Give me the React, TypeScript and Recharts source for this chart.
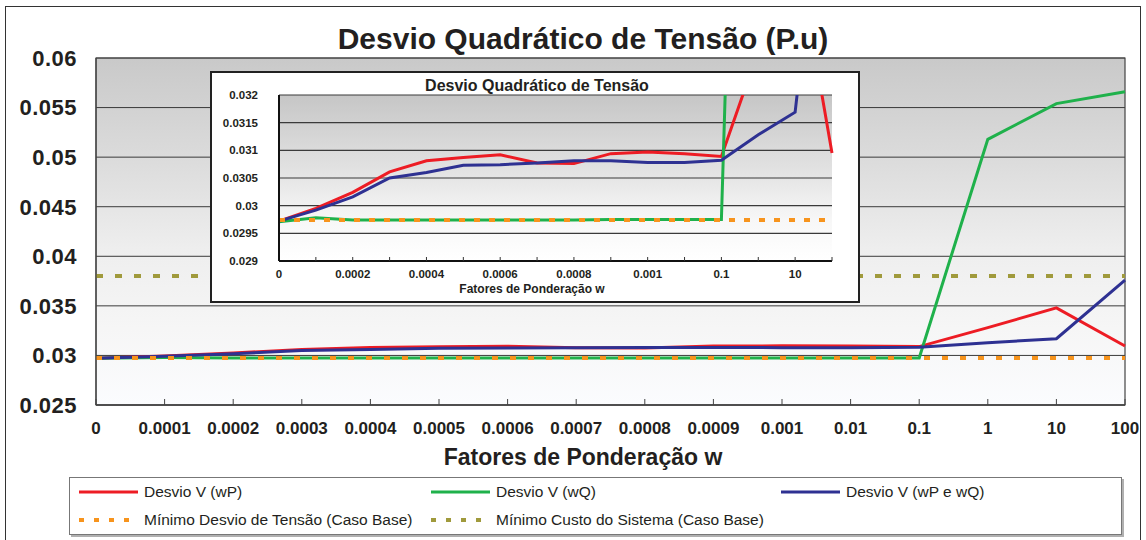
import { LineChart, Line, XAxis, YAxis, CartesianGrid, ReferenceLine, ReferenceArea } from "recharts";

const categories = ["0", "0.0001", "0.0002", "0.0003", "0.0004", "0.0005", "0.0006", "0.0007", "0.0008", "0.0009", "0.001", "0.01", "0.1", "1", "10", "100"];
const desvioWP = [0.02972, 0.02995, 0.03024, 0.03061, 0.03081, 0.03087, 0.03092, 0.03077, 0.03076, 0.03094, 0.03097, 0.03094, 0.03089, 0.0328, 0.0348, 0.03095];
const desvioWQ = [0.02971, 0.02978, 0.02974, 0.02974, 0.02974, 0.02974, 0.02974, 0.02974, 0.02974, 0.02975, 0.02975, 0.02975, 0.02975, 0.0518, 0.0554, 0.0566];
const desvioWPQ = [0.02972, 0.02992, 0.03016, 0.0305, 0.0306, 0.03073, 0.03074, 0.03077, 0.03081, 0.03081, 0.03078, 0.03078, 0.03082, 0.03128, 0.03169, 0.0376];
const minDesvioTensao = 0.02974;
const minCustoSistema = 0.038;
const mainTicks = [0.025, 0.03, 0.035, 0.04, 0.045, 0.05, 0.055, 0.06];
const insetTicks = [0.029, 0.0295, 0.03, 0.0305, 0.031, 0.0315, 0.032];

const RED = "#ed1c24";
const GREEN = "#1fb14b";
const BLUE = "#2e3192";
const ORANGE = "#f7941d";
const OLIVE = "#a09a3c";
const FONT = "'Liberation Sans', Arial, Helvetica, sans-serif";
const INK = "#231f20";

const data = categories.map((w, i) => ({ w, wp: desvioWP[i], wq: desvioWQ[i], wpq: desvioWPQ[i] }));

const legendItems = [
  { label: "Desvio V (wP)", color: RED, dash: undefined, x: 9, y: 14 },
  { label: "Desvio V (wQ)", color: GREEN, dash: undefined, x: 361, y: 14 },
  { label: "Desvio V (wP e wQ)", color: BLUE, dash: undefined, x: 711, y: 14 },
  { label: "Mínimo Desvio de Tensão (Caso Base)", color: ORANGE, dash: "5 10", x: 9, y: 42 },
  { label: "Mínimo Custo do Sistema (Caso Base)", color: OLIVE, dash: "5 10", x: 361, y: 42 },
];

function Inset() {
  return (
    <div style={{ position: "absolute", left: 210, top: 71, width: 650, height: 232, border: "2px solid #222", background: "#fff", boxSizing: "border-box" }}>
      <div style={{ position: "absolute", left: 325, top: 5, transform: "translateX(-50%)", fontFamily: FONT, fontWeight: "bold", fontSize: 16, lineHeight: "16px", color: INK, whiteSpace: "nowrap" }}>
        Desvio Quadrático de Tensão
      </div>
      <div style={{ position: "absolute", left: 320, top: 210, transform: "translateX(-50%)", fontFamily: FONT, fontWeight: "bold", fontSize: 12, lineHeight: "12px", color: INK, whiteSpace: "nowrap" }}>
        Fatores de Ponderação w
      </div>
      <div style={{ position: "absolute", left: -2, top: -2 }}>
        <LineChart width={650} height={232} data={data} margin={{ top: 24, right: 28, left: 9, bottom: 12 }}>
          <defs>
            <linearGradient id="insetBg" x1="0" y1="0" x2="0" y2="1">
              <stop offset="0%" stopColor="#c6c6c6" />
              <stop offset="45%" stopColor="#e2e2e2" />
              <stop offset="75%" stopColor="#f7f7f7" />
              <stop offset="100%" stopColor="#ffffff" />
            </linearGradient>
          </defs>
          <CartesianGrid vertical={false} stroke="#3a3a3a" strokeWidth={1.2} fill="url(#insetBg)" fillOpacity={1} />
          <XAxis
            dataKey="w"
            interval={0}
            tickFormatter={(v: string, i: number) => (i % 2 === 0 ? v : "")}
            tick={{ fill: INK, fontSize: 11.5, fontWeight: "bold", fontFamily: FONT }}
            tickSize={-4}
            tickMargin={13}
            height={30}
            stroke="#111"
            axisLine={{ stroke: "#111", strokeWidth: 2 }}
            tickLine={{ stroke: "#333" }}
          />
          <YAxis
            domain={[0.029, 0.032]}
            ticks={insetTicks}
            allowDataOverflow
            tickFormatter={(v: number) => String(v)}
            tick={{ fill: INK, fontSize: 11.5, fontWeight: "bold", fontFamily: FONT }}
            tickSize={0}
            tickMargin={21}
            width={60}
            axisLine={{ stroke: "#111", strokeWidth: 2 }}
            tickLine={false}
          />
          <Line dataKey="wp" stroke={RED} strokeWidth={3} dot={false} isAnimationActive={false} />
          <Line dataKey="wq" stroke={GREEN} strokeWidth={3} dot={false} isAnimationActive={false} />
          <Line dataKey="wpq" stroke={BLUE} strokeWidth={3} dot={false} isAnimationActive={false} />
          <ReferenceLine y={minDesvioTensao} stroke={ORANGE} strokeWidth={4} strokeDasharray="6 9" />
        </LineChart>
      </div>
    </div>
  );
}

export default function App() {
  return (
    <div style={{ position: "absolute", left: 0, top: 0, width: 1146, height: 540, overflow: "hidden", background: "#fff" }}>
      <div style={{ position: "absolute", left: 5, top: 6, width: 1136, height: 560, border: "1.5px solid #333", boxSizing: "border-box" }} />
      <div style={{ position: "absolute", left: 583, top: 24, transform: "translateX(-50%)", fontFamily: FONT, fontWeight: "bold", fontSize: 30, lineHeight: "30px", color: INK, whiteSpace: "nowrap" }}>
        Desvio Quadrático de Tensão (P.u)
      </div>
      <div style={{ position: "absolute", left: 0, top: 0 }}>
        <LineChart width={1146} height={540} data={data} margin={{ top: 58, right: 21, left: 16, bottom: 105 }}>
          <defs>
            <linearGradient id="mainBg" x1="0" y1="0" x2="0" y2="1">
              <stop offset="0%" stopColor="#c9c9c9" />
              <stop offset="30%" stopColor="#dcdcdc" />
              <stop offset="55%" stopColor="#eeeeee" />
              <stop offset="78%" stopColor="#f6f6f6" />
              <stop offset="100%" stopColor="#fbfcfe" />
            </linearGradient>
          </defs>
          <CartesianGrid vertical={false} stroke="#3a3a3a" strokeWidth={1} fill="url(#mainBg)" fillOpacity={1} />
          <ReferenceArea x1="0" x2="100" y1={0.025} y2={0.06} fill="none" stroke="#444" strokeWidth={1.2} ifOverflow="visible" />
          <XAxis
            dataKey="w"
            interval={0}
            tick={{ fill: INK, fontSize: 17, fontWeight: "bold", fontFamily: FONT }}
            tickSize={-6}
            tickMargin={23}
            height={30}
            axisLine={{ stroke: "#444", strokeWidth: 1.5 }}
            tickLine={{ stroke: "#444" }}
          />
          <YAxis
            domain={[0.025, 0.06]}
            ticks={mainTicks}
            tickFormatter={(v: number) => String(v)}
            tick={{ fill: INK, fontSize: 22, fontWeight: "bold", fontFamily: FONT, letterSpacing: 0.5 }}
            tickSize={0}
            tickMargin={19}
            width={80}
            axisLine={{ stroke: "#444", strokeWidth: 1.2 }}
            tickLine={false}
          />
          <ReferenceLine y={minCustoSistema} stroke={OLIVE} strokeWidth={4} strokeDasharray="7 12" />
          <Line dataKey="wp" stroke={RED} strokeWidth={3} dot={false} isAnimationActive={false} />
          <Line dataKey="wq" stroke={GREEN} strokeWidth={3} dot={false} isAnimationActive={false} />
          <Line dataKey="wpq" stroke={BLUE} strokeWidth={3} dot={false} isAnimationActive={false} />
          <ReferenceLine y={minDesvioTensao} stroke={ORANGE} strokeWidth={4} strokeDasharray="6 12" />
        </LineChart>
      </div>
      <Inset />
      <div style={{ position: "absolute", left: 583, top: 446, transform: "translateX(-50%)", fontFamily: FONT, fontWeight: "bold", fontSize: 23, lineHeight: "23px", color: INK, whiteSpace: "nowrap" }}>
        Fatores de Ponderação w
      </div>
      <div style={{ position: "absolute", left: 69, top: 477, width: 1053, height: 58, border: "1.5px solid #777", boxShadow: "2px 2px 0 #b0b0b0", background: "#fff", boxSizing: "border-box" }}>
        {legendItems.map((it) => (
          <div key={it.label} style={{ position: "absolute", left: it.x, top: it.y - 9, height: 18, display: "flex", alignItems: "center", whiteSpace: "nowrap" }}>
            <svg width={60} height={18}>
              <line x1={0} y1={9} x2={59} y2={9} stroke={it.color} strokeWidth={it.dash ? 4 : 3} strokeDasharray={it.dash} />
            </svg>
            <span style={{ marginLeft: 5, fontFamily: FONT, fontSize: 15.5, color: INK }}>{it.label}</span>
          </div>
        ))}
      </div>
    </div>
  );
}
